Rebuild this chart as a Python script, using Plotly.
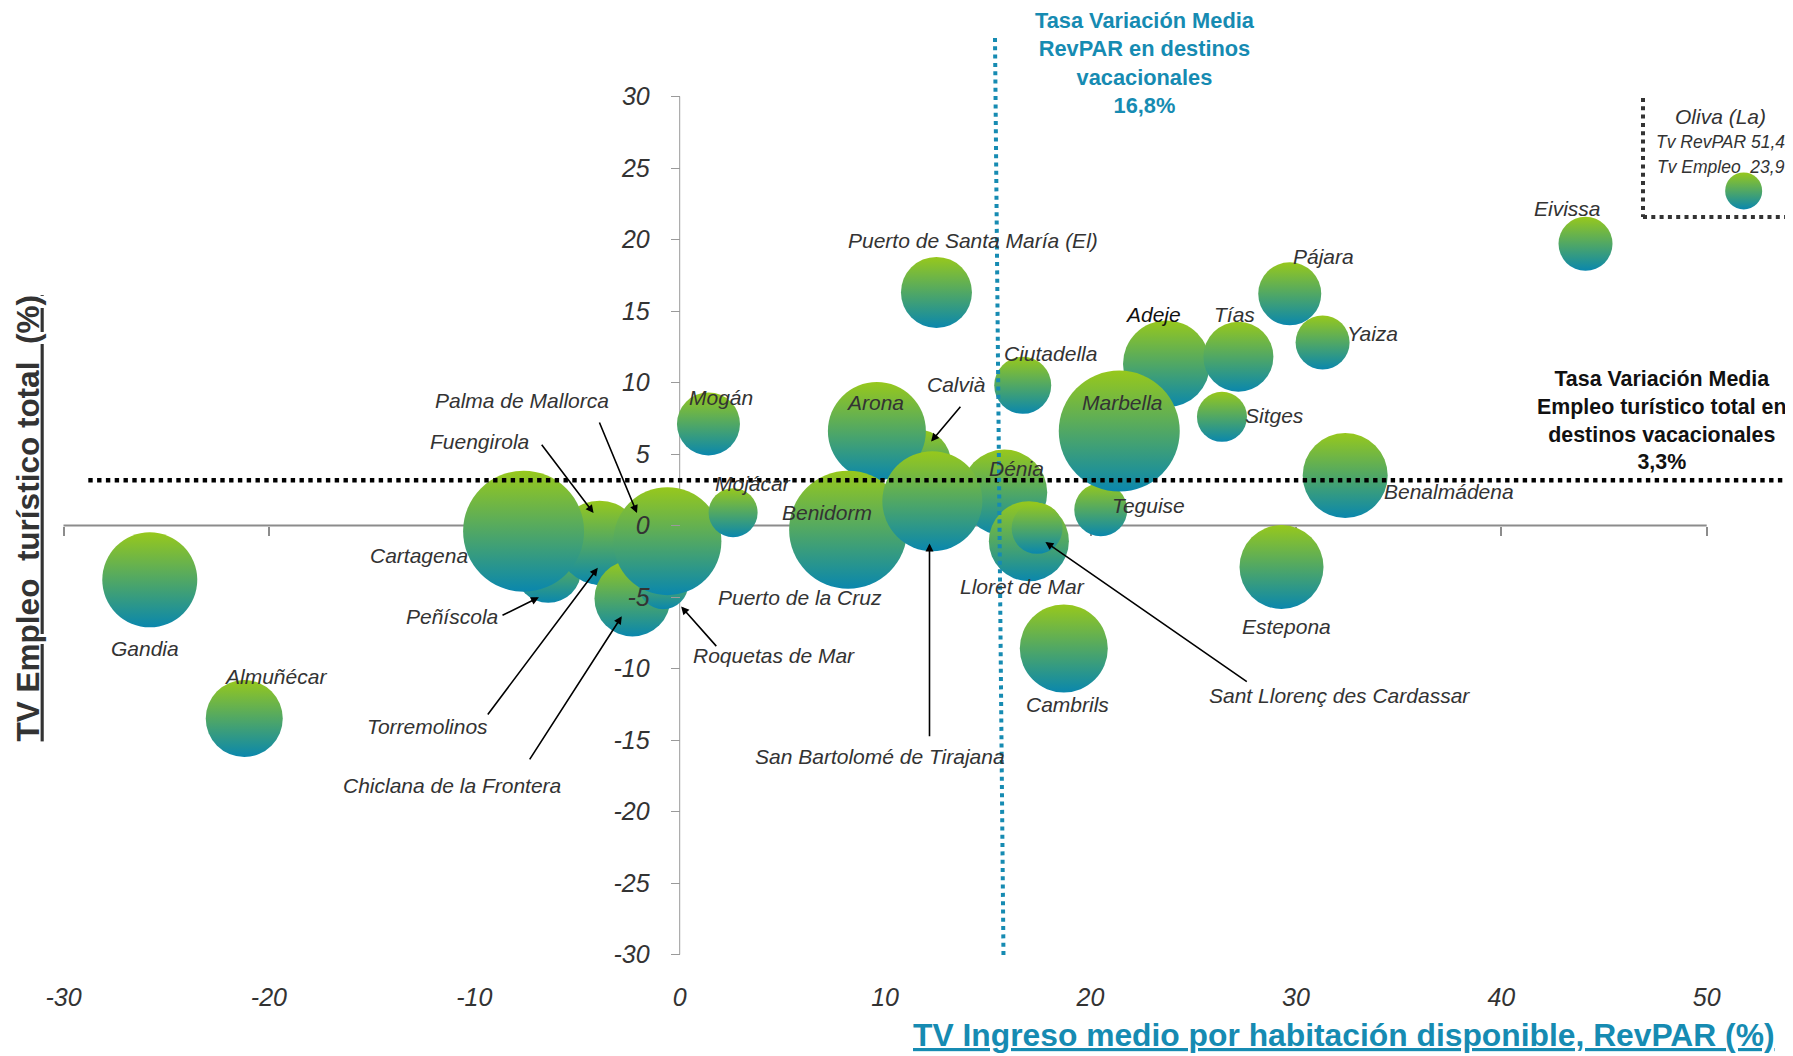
import plotly.graph_objects as go

# ---------------- data ----------------
destinos = ["Gandia", "Almuñécar", "Peñíscola", "Torremolinos", "Fuengirola",
            "Chiclana de la Frontera", "Cartagena", "Palma de Mallorca", "Roquetas de Mar",
            "Puerto de la Cruz", "Mojácar", "Mogán", "Calvià", "Arona", "Benidorm", "Dénia",
            "San Bartolomé de Tirajana", "Lloret de Mar", "Sant Llorenç des Cardassar",
            "Ciutadella", "Puerto de Santa María (El)", "Cambrils", "Teguise", "Adeje", "Tías",
            "Marbella", "Sitges", "Yaiza", "Pájara", "Benalmádena", "Estepona", "Eivissa",
            "Oliva (La)"]
tv_revpar = [-25.8, -21.2, -6.4, -3.5, -3.9, -2.3, -7.6, -1.9, -0.8, -0.6, 2.6, 1.4, 11.6,
             9.6, 8.2, 15.8, 12.3, 17.0, 17.4, 16.7, 12.5, 18.7, 20.5, 23.7, 27.2, 21.4, 26.4,
             31.3, 29.7, 32.4, 29.3, 44.1, 51.8]
tv_empleo = [-3.8, -13.5, -3.1, -1.7, -1.2, -5.1, -0.4, 0.5, -4.1, -1.1, 0.9, 7.1, 4.4,
             6.6, -0.3, 2.3, 1.7, -1.1, -0.2, 9.8, 16.3, -8.6, 1.1, 11.3, 11.8, 6.6, 7.6,
             12.8, 16.2, 3.5, -2.9, 19.7, 23.4]
tamano = [9.5, 7.7, 6.6, 7.4, 8.4, 7.6, 12.1, 3.0, 5.0, 10.8, 4.9, 6.3, 6.6, 9.8, 11.8, 8.6,
          10.0, 8.0, 5.1, 5.7, 7.1, 8.8, 5.3, 8.7, 7.0, 12.1, 5.0, 5.4, 6.3, 8.5, 8.4, 5.4, 3.7]

x_ticks = [-30, -20, -10, 0, 10, 20, 30, 40, 50]
x_ticktext = ["-30", "-20", "-10", "0", "10", "20", "30", "40", "50"]
y_ticks = [-30, -25, -20, -15, -10, -5, 0, 5, 10, 15, 20, 25, 30]
y_ticktext = ["-30", "-25", "-20", "-15", "-10", "-5", "0", "5", "10", "15", "20", "25", "30"]

media_revpar = "16,8%"
media_empleo = "3,3%"
oliva_texto = ["Oliva (La)", "Tv RevPAR 51,4;", "Tv Empleo  23,9"]

# ---------------- layout geometry ----------------
OFF = 8                      # page body margin: the figure starts 8px in
W, H = 1793 - OFF, 1056 - OFF
ML, MR, MT, MB = 32, 4, 12, 86
PW, PH = W - ML - MR, H - MT - MB
X0PX, XS = 679.7 - OFF, 20.54      # figure pixel of x=0, px per unit
Y0PX, YS = 525.5 - OFF, 14.3       # figure pixel of y=0, px per unit
xr = [-(X0PX - ML) / XS, -(X0PX - ML) / XS + PW / XS]
yr = [(Y0PX - MT) / YS - PH / YS, (Y0PX - MT) / YS]


def px2paper(px, py):
    """page pixel -> paper fraction"""
    return (px - OFF - ML) / PW, (MT + PH - (py - OFF)) / PH


def px2data(px, py):
    """page pixel -> data coordinates"""
    return (px - OFF - X0PX) / XS, (Y0PX - (py - OFF)) / YS


TEXT = "#333333"
TEAL = "#168bb2"
GREEN = "#97c81c"
BLUE = "#0a87ad"
FONT = "Liberation Sans, Arial, sans-serif"

fig = go.Figure()
fig.add_trace(go.Scatter(
    x=tv_revpar, y=tv_empleo, mode="markers", text=destinos, hoverinfo="text",
    cliponaxis=False, showlegend=False,
    marker=dict(size=tamano, sizemode="diameter", sizeref=0.1, color=GREEN, opacity=1,
                line=dict(width=0), gradient=dict(type="vertical", color=BLUE)),
))
# helper trace for the tick marks on the zero line
fig.add_trace(go.Scatter(x=[None], y=[None], xaxis="x2", yaxis="y", showlegend=False,
                         hoverinfo="skip", mode="markers"))

# ---------------- labels ----------------
label_px = {
    "Gandia": (144.5, 648.3), "Almuñécar": (275.7, 676), "Cartagena": (418.8, 555),
    "Peñíscola": (451.8, 616.7), "Torremolinos": (427.5, 726.7),
    "Chiclana de la Frontera": (451.5, 785.5), "Palma de Mallorca": (522, 400.7),
    "Fuengirola": (479.6, 441.5), "Roquetas de Mar": (774.2, 655.3),
    "Puerto de la Cruz": (799.6, 597.3), "Mogán": (721, 397.3), "Mojácar": (753, 483.6),
    "Arona": (874.6, 402.4), "Calvià": (956, 384.7), "Benidorm": (826.8, 512.2),
    "San Bartolomé de Tirajana": (880.4, 756.3), "Puerto de Santa María (El)": (973.3, 240.7),
    "Dénia": (1016.2, 468.9), "Ciutadella": (1050.2, 353.6), "Lloret de Mar": (1022.7, 586.3),
    "Sant Llorenç des Cardassar": (1339.6, 695), "Cambrils": (1067, 704.5),
    "Teguise": (1148.7, 505.5), "Marbella": (1122.9, 402.6), "Adeje": (1153.2, 314.2),
    "Tías": (1234.8, 314.2), "Sitges": (1274.7, 415.6), "Yaiza": (1372.7, 333.7),
    "Pájara": (1323.6, 256.4), "Benalmádena": (1449, 491), "Estepona": (1286.2, 626),
    "Eivissa": (1567.4, 208.9),
}
arrows_px = {  # tail (px) -> tip (px)
    "Peñíscola": ((501, 616), (538.9, 597.3)),
    "Torremolinos": ((486.3, 716.4), (597.8, 567.8)),
    "Chiclana de la Frontera": ((528.4, 761.4), (621.8, 616.2)),
    "Palma de Mallorca": ((598.6, 420.5), (637, 513.1)),
    "Fuengirola": ((540.2, 442.8), (593.6, 513.1)),
    "Roquetas de Mar": ((717.8, 647.8), (681.1, 606.5)),
    "Calvià": ((961.9, 404.9), (931.1, 441.5)),
    "San Bartolomé de Tirajana": ((929.5, 738.2), (929.5, 543.4)),
    "Sant Llorenç des Cardassar": ((1248.3, 682.7), (1045.4, 541.9)),
}

ann = []
for name, (px, py) in label_px.items():
    x, y = px2paper(px, py)
    ann.append(dict(x=x, y=y, xref="paper", yref="paper", text=name, showarrow=False,
                    xanchor="center", yanchor="middle",
                    font=dict(family=FONT, size=21, style="italic",
                              color="#111111" if name == "Adeje" else TEXT)))
for name, ((tx, ty), (hx, hy)) in arrows_px.items():
    x, y = px2paper(hx, hy)
    ann.append(dict(x=x, y=y, xref="paper", yref="paper", text=" ", showarrow=True,
                    ax=tx - hx, ay=ty - hy, axref="pixel", ayref="pixel",
                    arrowhead=2, arrowsize=1, arrowwidth=1.6, arrowcolor="#000000",
                    font=dict(size=1)))

# Oliva (La) box text
for txt, (px, py), sz in zip(oliva_texto, [(1720.8, 116.7), (1723, 141.7), (1721, 167.3)],
                             [21, 17.5, 17.5]):
    x, y = px2paper(px, py)
    ann.append(dict(x=x, y=y, xref="paper", yref="paper", text=txt, showarrow=False,
                    xanchor="center", yanchor="middle",
                    font=dict(family=FONT, size=sz, style="italic", color=TEXT)))

# mean annotations
x, y = px2paper(1144.5, 62.7)
ann.append(dict(x=x, y=y, xref="paper", yref="paper", showarrow=False,
                xanchor="center", yanchor="middle", align="center",
                text="Tasa Variación Media<br>RevPAR en destinos<br>vacacionales<br>" + media_revpar,
                font=dict(family=FONT, size=21.8, weight="bold", color=TEAL)))
x, y = px2paper(1662, 420.4)
ann.append(dict(x=x, y=y, xref="paper", yref="paper", showarrow=False,
                xanchor="center", yanchor="middle", align="center",
                text="Tasa Variación Media<br>Empleo turístico total en<br>destinos vacacionales<br>" + media_empleo,
                font=dict(family=FONT, size=21.4, weight="bold", color="#111111")))

# axis titles
x, y = px2paper(28, 518.4)
ann.append(dict(x=x, y=y, xref="paper", yref="paper", showarrow=False, textangle=-90,
                xanchor="center", yanchor="middle",
                text="TV Empleo  turístico total  (%)",
                font=dict(family=FONT, size=31.5, weight="bold", color=TEXT, lineposition="under")))
x, y = px2paper(1777, 1035)
ann.append(dict(x=x, y=y, xref="paper", yref="paper", showarrow=False, xanchor="right",
                yanchor="middle",
                text="TV Ingreso medio por habitación disponible, RevPAR (%)",
                font=dict(family=FONT, size=31.8, weight="bold", color=TEAL, lineposition="under")))

# ---------------- shapes ----------------
shapes = []
# axis lines (below the bubbles)
shapes.append(dict(type="line", xref="x", yref="y", x0=x_ticks[0], x1=x_ticks[-1], y0=0, y1=0,
                   line=dict(color="#8c8c8c", width=2), layer="below"))
shapes.append(dict(type="line", xref="x", yref="y", x0=0, x1=0, y0=y_ticks[0], y1=y_ticks[-1],
                   line=dict(color="#9a9a9a", width=1), layer="below"))
# mean lines
hx0, hy0 = px2data(88.3, 480.3)
hx1, _ = px2data(1795, 480.3)
shapes.append(dict(type="line", xref="x", yref="y", x0=hx0, x1=hx1, y0=hy0, y1=hy0,
                   line=dict(color="#000000", width=4.4, dash="4.4px,4.4px"), layer="above"))
vx0, vy0 = px2data(995, 38)
vx1, vy1 = px2data(1003.5, 958)
shapes.append(dict(type="line", xref="x", yref="y", x0=vx0, x1=vx1, y0=vy0, y1=vy1,
                   line=dict(color=TEAL, width=4, dash="4px,4.3px"), layer="above"))
# Oliva box
bx, by0 = px2data(1643, 98)
bx1, by1 = px2data(1795, 217)
shapes.append(dict(type="line", xref="x", yref="y", x0=bx, x1=bx, y0=by0, y1=by1,
                   line=dict(color="#333333", width=4, dash="4px,4.3px"), layer="above"))
shapes.append(dict(type="line", xref="x", yref="y", x0=bx, x1=bx1, y0=by1, y1=by1,
                   line=dict(color="#333333", width=4, dash="4px,4.3px"), layer="above"))

fig.update_layout(
    width=W, height=H, margin=dict(l=ML, r=MR, t=MT, b=MB, autoexpand=False),
    paper_bgcolor="white", plot_bgcolor="white", showlegend=False,
    annotations=ann, shapes=shapes,
    xaxis=dict(range=xr, showgrid=False, zeroline=False, showline=False,
               tickvals=x_ticks, ticktext=x_ticktext, ticks="", ticklabelstandoff=10,
               tickfont=dict(family=FONT, size=25, style="italic", color=TEXT)),
    xaxis2=dict(range=xr, overlaying="x", anchor="free",
                position=(MT + PH - Y0PX) / PH, side="bottom",
                showgrid=False, zeroline=False, showline=False, showticklabels=False,
                tickvals=x_ticks, ticks="outside", ticklen=9, tickwidth=1.5,
                tickcolor="#8c8c8c", layer="below traces"),
    yaxis=dict(range=yr, anchor="free", position=(X0PX - ML) / PW, showgrid=False,
               zeroline=False, showline=False, tickvals=y_ticks, ticktext=y_ticktext,
               ticks="outside", ticklen=9, tickwidth=1, tickcolor="#9a9a9a",
               ticklabelstandoff=16,
               tickfont=dict(family=FONT, size=25, style="italic", color=TEXT)),
)

fig.write_html("out.html")
